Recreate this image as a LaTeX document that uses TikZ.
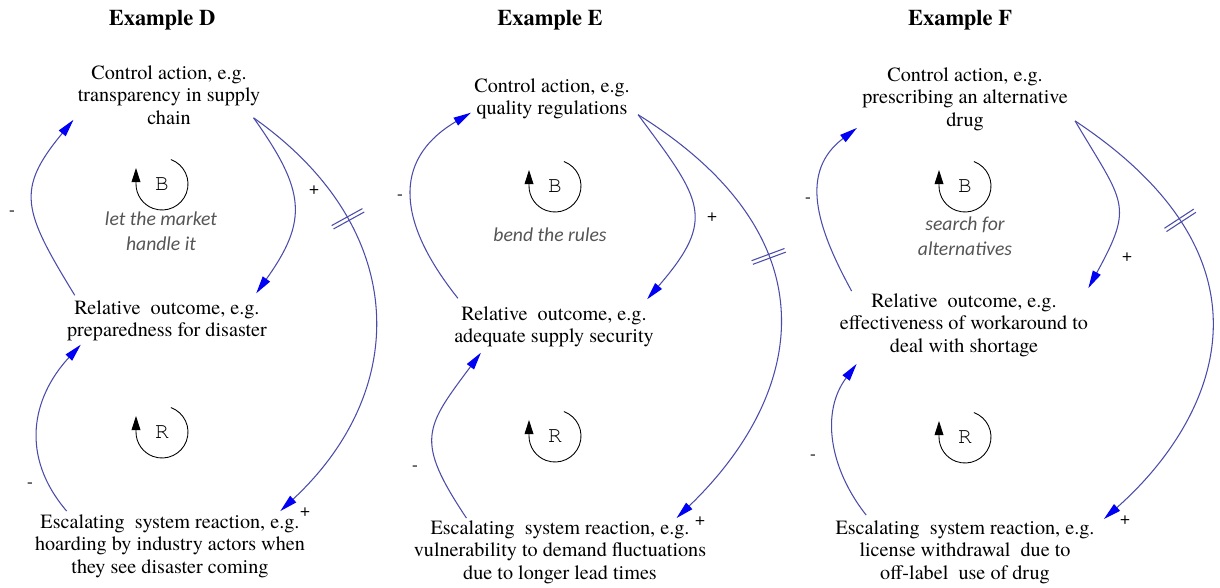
\documentclass[tikz,border=0pt]{standalone}
\usepackage{fontspec}
\setmainfont{texgyretermes}[Extension=.otf,UprightFont=*-regular,BoldFont=*-bold,ItalicFont=*-italic,BoldItalicFont=*-bolditalic]
\newfontfamily\loopfont{Carlito}
\newfontfamily\letterfont{texgyrecursor}[Extension=.otf,UprightFont=*-regular]
\usepackage{tikz}
\usetikzlibrary{positioning}
\usetikzlibrary{arrows.meta}
\usetikzlibrary{decorations.markings}

\definecolor{linkblue}{RGB}{75,75,170}
\definecolor{tipblue}{RGB}{0,0,245}
\definecolor{loopgrey}{RGB}{85,85,85}

\begin{document}
\begin{tikzpicture}[x=0.02cm,y=-0.02cm,
  var/.style={align=center,inner sep=0pt,font=\fontsize{11.5}{12.8}\selectfont},
  title/.style={font=\fontsize{12.8}{14}\selectfont\bfseries},
  link/.style={draw=linkblue,line width=0.6pt,-{Triangle[length=10pt,width=5pt,color=tipblue]}},
  sign/.style={font=\fontsize{10}{12}\selectfont,inner sep=0pt},
  loopname/.style={align=center,font=\fontsize{11.2}{14.2}\loopfont\itshape,text=loopgrey},
  looparrow/.style={line width=0.5pt,-{Triangle[length=8pt,width=5pt]}},
  loopletter/.style={font=\fontsize{13}{14}\letterfont},
  delay/.style={postaction={decorate,decoration={markings,mark=at position #1 with
    {\draw[linkblue,line width=0.6pt,-] (-1.1pt,-10pt) -- (-1.1pt,10pt) (1.1pt,-10pt) -- (1.1pt,10pt);}}}}
]
\useasboundingbox (0,0) rectangle (1220,588);

% Example D
\begin{scope}
\node[title] (titleD) at (162,20) {Example D};
\node[var] (ctrlD) at (169,95) {Control action, e.g.\\transparency in supply\\chain};
\node[var] (relD) at (167,321) {Relative\ \ outcome, e.g.\\preparedness for disaster};
\node[var] (escD) at (170,546) {Escalating\ \ system reaction, e.g.\\hoarding by industry actors when\\they see disaster coming};
\node[loopletter] (loopBD) at (162,184) {B};
\draw[looparrow] (loopBD) ++(-70:26) arc[start angle=-70,end angle=180,radius=26] -- ++(0,-16);
\node[loopname] (nameD) at (161,231) {let the market\\handle it};
\node[loopletter] (loopRD) at (162,432) {R};
\draw[looparrow] (loopRD) ++(-70:26) arc[start angle=-70,end angle=180,radius=26] -- ++(0,-16);
\draw[link] ([shift={(8,-5)}]relD.north west) .. controls +(-52,-85) and +(-58,70) .. ([shift={(-4,-5)}]ctrlD.south west);
\draw[link] ([shift={(-7,-7)}]ctrlD.south east) .. controls +(52,73) and +(52,-73) .. ([shift={(-11,-7)}]relD.north east);
\draw[link,delay=0.3] ([shift={(-7,-7)}]ctrlD.south east) .. controls +(156,110) and +(131,-122) .. ([shift={(-25,-3)}]escD.north east);
\draw[link] ([shift={(32,-3)}]escD.north west) .. controls +(-47,-55) and +(-49,53) .. ([shift={(14,3)}]relD.south west);
\node[sign] (signD1) at (12,213) {-};
\node[sign] (signD2) at (314,190) {+};
\node[sign] (signD3) at (305,512) {+};
\node[sign] (signD4) at (30,485) {-};
\end{scope}

% Example E
\begin{scope}[shift={(400,0)}]
\node[title] (titleE) at (150,20) {Example E};
\node[var] (ctrlE) at (152,99) {Control action, e.g.\\quality regulations};
\node[var] (relE) at (154,327) {Relative\ \ outcome, e.g.\\adequate supply security};
\node[var] (escE) at (160,552) {Escalating\ \ system reaction, e.g.\\vulnerability to demand fluctuations\\due to longer lead times};
\node[loopletter] (loopBE) at (155,186) {B};
\draw[looparrow] (loopBE) ++(-70:26) arc[start angle=-70,end angle=180,radius=26] -- ++(0,-16);
\node[loopname] (nameE) at (150,235) {bend the rules};
\node[loopletter] (loopRE) at (155,436) {R};
\draw[looparrow] (loopRE) ++(-70:26) arc[start angle=-70,end angle=180,radius=26] -- ++(0,-16);
\draw[link] ([shift={(4,-8)}]relE.north west) .. controls +(-59,-74) and +(-81,48) .. ([shift={(-3,-7)}]ctrlE.south west);
\draw[link] ([shift={(8,-5)}]ctrlE.south east) .. controls +(64,86) and +(70,-81) .. ([shift={(-7,-7)}]relE.north east);
\draw[link,delay=0.4] ([shift={(8,-5)}]ctrlE.south east) .. controls +(205,128) and +(122,-117) .. ([shift={(-30,-2)}]escE.north east);
\draw[link] ([shift={(53,-2)}]escE.north west) .. controls +(-52,-78) and +(-56,75) .. ([shift={(27,5)}]relE.south west);
\node[sign] (signE1) at (0,197) {-};
\node[sign] (signE2) at (312,217) {+};
\node[sign] (signE3) at (300,521) {+};
\node[sign] (signE4) at (15,468) {-};
\end{scope}

% Example F
\begin{scope}[shift={(810,0)}]
\node[title] (titleF) at (150,20) {Example F};
\node[var] (ctrlF) at (155,99) {Control action, e.g.\\prescribing an alternative\\drug};
\node[var] (relF) at (154,325) {Relative\ \ outcome, e.g.\\effectiveness of workaround to\\deal with shortage};
\node[var] (escF) at (155,552) {Escalating\ \ system reaction, e.g.\\license withdrawal\ \ due to\\off-label\ \ use of drug};
\node[loopletter] (loopBF) at (155,186) {B};
\draw[looparrow] (loopBF) ++(-70:26) arc[start angle=-70,end angle=180,radius=26] -- ++(0,-16);
\node[loopname] (nameF) at (155,236) {search for\\alternatives};
\node[loopletter] (loopRF) at (155,437) {R};
\draw[looparrow] (loopRF) ++(-70:26) arc[start angle=-70,end angle=180,radius=26] -- ++(0,-16);
\draw[link] ([shift={(12,-2)}]relF.north west) .. controls +(-35,-64) and +(-58,44) .. ([shift={(-5,-3)}]ctrlF.south west);
\draw[link] ([shift={(7,-10)}]ctrlF.south east) .. controls +(49,83) and +(46,-84) .. ([shift={(0,-5)}]relF.north east);
\draw[link,delay=0.3] ([shift={(7,-10)}]ctrlF.south east) .. controls +(222,147) and +(102,-90) .. ([shift={(9,-1)}]escF.north east);
\draw[link] ([shift={(31,-5)}]escF.north west) .. controls +(-37,-47) and +(-36,48) .. ([shift={(17,7)}]relF.south west);
\node[sign] (signF1) at (-2,200) {-};
\node[sign] (signF2) at (317,257) {+};
\node[sign] (signF3) at (315,520) {+};
\node[sign] (signF4) at (3,457) {-};
\end{scope}

\end{tikzpicture}
\end{document}
